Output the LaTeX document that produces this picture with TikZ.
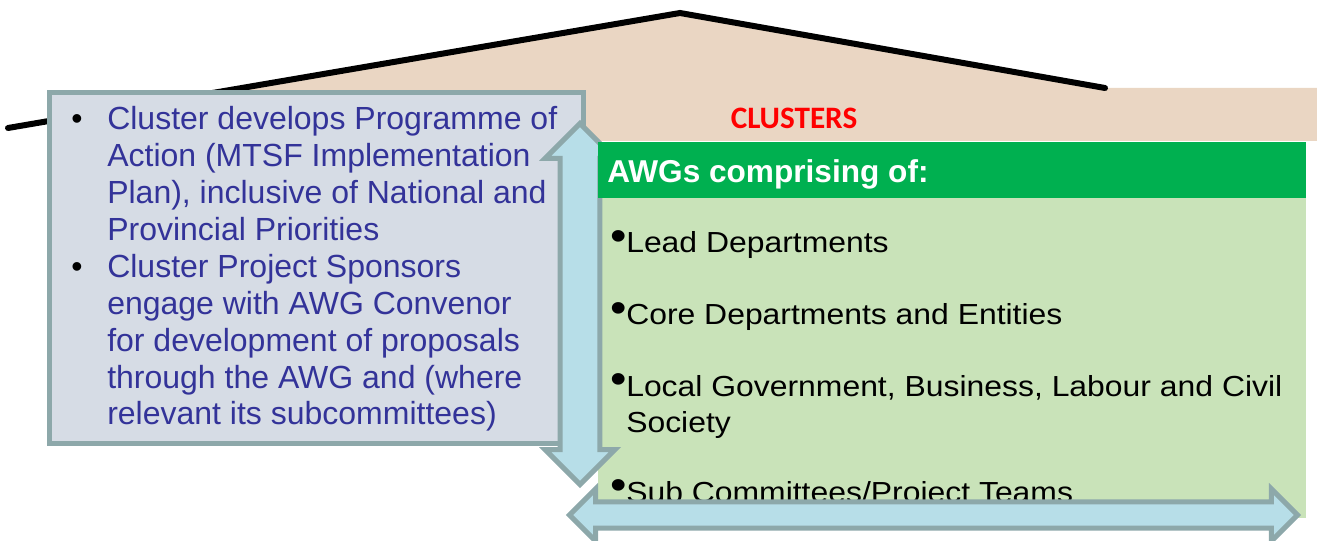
\documentclass[tikz,border=0pt]{standalone}
\usepackage{fontspec}
\setmainfont{Liberation Sans}
\newfontfamily\clusterfont{Carlito}
\newfontfamily\awgfont[FakeStretch=1.1]{Liberation Sans}
\usetikzlibrary{shapes.arrows}
\definecolor{roofbg}{HTML}{EAD6C3}
\definecolor{planbg}{HTML}{D6DCE5}
\definecolor{planline}{HTML}{8DA8AA}
\definecolor{plantext}{HTML}{333399}
\definecolor{awgbg}{HTML}{C9E3B9}
\definecolor{awghead}{HTML}{00B050}
\definecolor{linkbg}{HTML}{B7DEE8}
\newcommand{\planbullet}{\makebox[27pt][l]{\color{black}•}}
\newcommand{\planindent}{\hspace*{27pt}}
\newcommand{\awgbullet}{\makebox[12pt][l]{\raisebox{2pt}{\fontsize{32}{32}\selectfont •}}}

\begin{document}
\begin{tikzpicture}[x=0.75pt,y=-0.75pt,
	roof/.style={line width=4.5pt,line join=miter,line cap=round},
	planbox/.style={rectangle,draw=planline,fill=planbg,line width=3.75pt,inner sep=0pt},
	awgbox/.style={rectangle,inner sep=0pt,minimum width=531pt},
	link/.style={double arrow,draw=planline,fill=linkbg,line width=3.75pt,inner xsep=0pt,double arrow head indent=0pt},
	item/.style={anchor=base west,inner sep=0pt,align=left,font=\awgfont\fontsize{21.75}{27}\selectfont}]
\useasboundingbox (0,0) rectangle (1317,541);
% roof
\fill[roofbg] (8,128) -- (680,13) -- (1105,88) -- (1317,88) -- (1317,141) -- (52,141) -- (52,121) -- cycle;
\draw[roof] (8,128) -- (680,13) -- (1105,88);
\node[anchor=base,inner sep=0pt,text=red,font=\clusterfont\bfseries\fontsize{23.4}{28}\selectfont] (clusters) at (794,129) {CLUSTERS};
% AWG box
\node[awgbox,fill=awgbg,anchor=north west,minimum height=282pt] (awg) at (598,142) {};
\node[item] (lead) at (610,253) {\awgbullet Lead Departments};
\node[item] (core) at (610,325) {\awgbullet Core Departments and Entities};
\node[item] (local) at (610,432) {\awgbullet Local Government, Business, Labour and Civil\\\hspace*{12pt}Society};
\node[item] (sub) at (610,502) {\awgbullet Sub Committees/Project Teams};
% cluster box
\node[planbox,anchor=north west,minimum width=400.5pt,minimum height=262.5pt] (plan) at (46.5,90.5) {};
\node[anchor=base west,inner sep=0pt,align=left,text=plantext,font=\fontsize{24}{27.7}\selectfont] (plantxt) at (71,425)
	{\planbullet Cluster develops Programme of\\
	\planindent Action (MTSF Implementation\\
	\planindent Plan), inclusive of National and\\
	\planindent Provincial Priorities\\
	\planbullet Cluster Project Sponsors\\
	\planindent engage with AWG Convenor\\
	\planindent for development of proposals\\
	\planindent through the AWG and (where\\
	\planindent relevant its subcommittees)};
% links
\node[link,rotate=90,minimum height=270.75pt,inner ysep=13.1pt,double arrow head extend=11.25pt] (vlink) at (580,304) {};
\node[awgbox,fill=awghead,anchor=north west,minimum height=42pt] (awgtop) at (598,142) {};
\node[anchor=base west,inner sep=0pt,text=white,font=\bfseries\fontsize{23.7}{28}\selectfont] (awgtitle) at (607,183) {AWGs comprising of:};
\node[link,minimum height=546pt,inner ysep=7.9pt,double arrow head extend=9.75pt] (hlink) at (933.5,515) {};
\end{tikzpicture}
\end{document}
